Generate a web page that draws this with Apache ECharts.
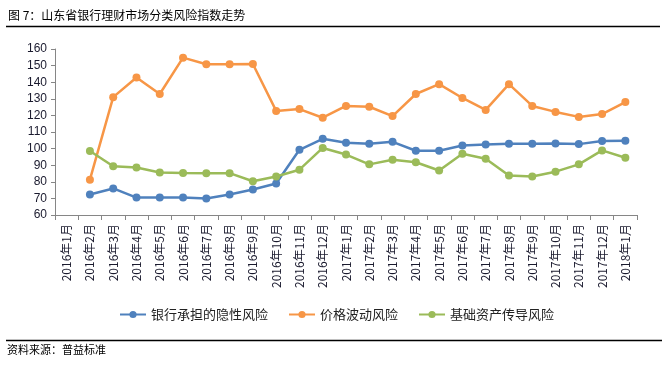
<!DOCTYPE html>
<html><head><meta charset="utf-8">
<script src="https://cdn.jsdelivr.net/npm/echarts@6/dist/echarts.min.js"></script>
<style>html,body{margin:0;padding:0;background:#fff}#c{width:670px;height:365px}</style>
</head><body><div id="c"></div>
<script>
const categories = ['2016年1月','2016年2月','2016年3月','2016年4月','2016年5月','2016年6月','2016年7月','2016年8月','2016年9月','2016年10月','2016年11月','2016年12月','2017年1月','2017年2月','2017年3月','2017年4月','2017年5月','2017年6月','2017年7月','2017年8月','2017年9月','2017年10月','2017年11月','2017年12月','2018年1月'];
const seriesNames = ['银行承担的隐性风险','价格波动风险','基础资产传导风险'];
const bankRisk = [null,72.3,76.0,70.5,70.6,70.6,70.0,72.3,75.4,79.0,99.3,105.9,103.5,102.9,104.1,98.7,98.7,101.9,102.5,102.9,102.9,103.1,102.7,104.6,104.8];
const priceRisk = [null,81.3,131.0,142.8,132.9,154.8,150.8,150.8,151.0,122.7,123.8,118.6,125.7,125.2,119.6,132.9,138.8,130.5,123.3,138.8,125.7,122.1,119.1,120.8,128.0];
const assetRisk = [null,98.6,89.4,88.6,85.6,85.3,85.2,85.2,80.3,83.2,87.3,100.4,96.4,90.5,93.3,91.8,86.8,96.9,93.9,83.8,83.2,86.1,90.5,98.9,94.5];
const yTicks = {min:60, max:160, interval:10};
const colors = ['#4F81BD','#F79646','#9BBB59'];

const chart = echarts.init(document.getElementById('c'));
const font = '"Noto Sans CJK SC", "Liberation Sans", sans-serif';
function mk(name, data, color){
  return {name, type:'line', data, connectNulls:false, symbol:'circle', symbolSize:8,
    itemStyle:{color}, lineStyle:{color, width:2.5}};
}
chart.setOption({
  animation:false,
  textStyle:{fontFamily:font},
  grid:{left:55, right:33, top:49, bottom:150, containLabel:false},
  xAxis:{type:'category', data:categories, boundaryGap:true,
    axisLine:{lineStyle:{color:'#868686', width:1}},
    axisTick:{show:true, length:5, lineStyle:{color:'#868686'}},
    axisLabel:{rotate:90, interval:0, margin:9, fontSize:12, color:'#1a1a2e', fontFamily:font}},
  yAxis:{type:'value', min:yTicks.min, max:yTicks.max, interval:yTicks.interval,
    splitLine:{show:false},
    axisLine:{show:true, lineStyle:{color:'#868686', width:1}},
    axisTick:{show:true, inside:false, length:4, lineStyle:{color:'#868686'}},
    axisLabel:{fontSize:12, color:'#1a1a2e', margin:8, fontFamily:'"Liberation Sans", sans-serif'}},
  legend:{data:seriesNames, left:114, top:303, itemWidth:26, itemHeight:9, itemGap:20,
    textStyle:{fontSize:13, color:'#222', fontFamily:font}},
  series:[mk(seriesNames[0], bankRisk, colors[0]), mk(seriesNames[1], priceRisk, colors[1]), mk(seriesNames[2], assetRisk, colors[2])],
  graphic:[
    {type:'text', left:8, top:9, style:{text:'图 7：山东省银行理财市场分类风险指数走势', fontSize:12, fill:'#000', fontFamily:font}},
    {type:'line', shape:{x1:6, y1:26.5, x2:660, y2:26.5}, style:{stroke:'#000', lineWidth:1.5}},
    {type:'line', shape:{x1:6, y1:340.5, x2:662, y2:340.5}, style:{stroke:'#000', lineWidth:1.5}},
    {type:'text', left:7, top:344, style:{text:'资料来源：普益标准', fontSize:11, fill:'#000', fontFamily:font}}
  ]
});
</script></body></html>
